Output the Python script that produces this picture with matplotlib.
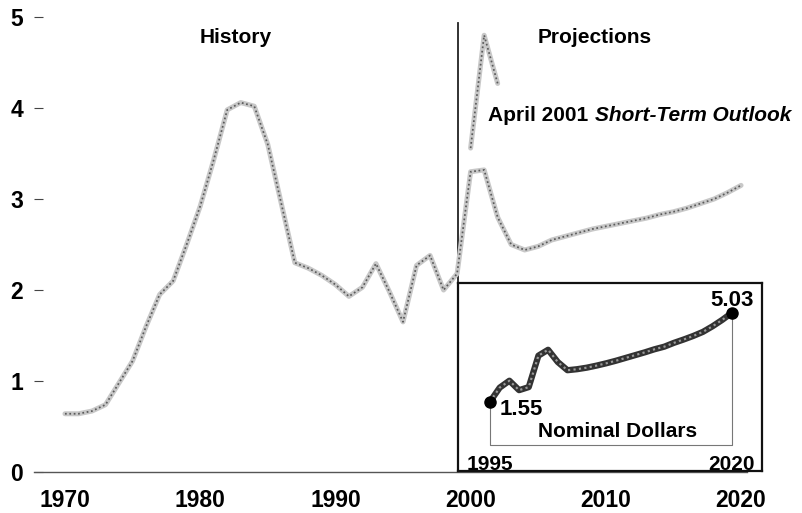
import matplotlib
matplotlib.use('Agg')
import matplotlib.pyplot as plt

plt.rcParams['font.family'] = ['Liberation Sans', 'DejaVu Sans']
plt.rcParams['font.weight'] = 'bold'

# history + reference projection (constant dollars)
years = list(range(1970, 2021))
price = [0.64, 0.64, 0.67, 0.74, 0.98, 1.22, 1.60, 1.95, 2.10, 2.50,
         2.92, 3.43, 3.98, 4.06, 4.02, 3.60, 2.95, 2.30, 2.24, 2.16,
         2.06, 1.93, 2.03, 2.29, 1.98, 1.65, 2.27, 2.38, 2.00, 2.18,
         3.30, 3.32, 2.80, 2.50, 2.44, 2.48, 2.55, 2.59, 2.63, 2.67,
         2.70, 2.73, 2.76, 2.79, 2.83, 2.86, 2.90, 2.95, 3.00, 3.07,
         3.15]

# April 2001 Short-Term Outlook
steo_years = [2000, 2001, 2002]
steo_price = [3.56, 4.80, 4.27]

# inset: nominal dollars
nom_years = list(range(1995, 2021))
nom_price = [1.55, 2.10, 2.37, 2.00, 2.12, 3.35, 3.58, 3.10, 2.78, 2.82,
             2.88, 2.96, 3.05, 3.15, 3.26, 3.37, 3.48, 3.60, 3.70, 3.85,
             3.98, 4.12, 4.28, 4.50, 4.75, 5.03]

divider_year = 1999.1

W, H = 802, 513
fig = plt.figure(figsize=(W / 100, H / 100), dpi=100)
ax = fig.add_axes([34 / W, (H - 472) / H, (747 - 34) / W, (472 - 12.5) / H])
ax.set_xlim(1967.71, 2020.44)
ax.set_ylim(0, 5.05)


def speckle(a, x, y, base, dots, lw):
    a.plot(x, y, color=base, lw=lw, solid_capstyle='round',
           solid_joinstyle='round', zorder=3)
    a.plot(x, y, color=dots, lw=lw * 0.35, ls=(0, (1, 1.5)), zorder=3)


speckle(ax, years, price, '#c8c8c8', '#5a5a5a', 3.6)
speckle(ax, steo_years, steo_price, '#c8c8c8', '#5a5a5a', 3.6)

ax.plot([divider_year, divider_year], [0, 4.93], color='#222222', lw=1.3, zorder=2)

for s in ['top', 'right', 'left']:
    ax.spines[s].set_visible(False)
ax.spines['bottom'].set_color('#555555')
ax.spines['bottom'].set_linewidth(1.0)

ax.set_xticks([1970, 1980, 1990, 2000, 2010, 2020])
ax.set_yticks([0, 1, 2, 3, 4, 5])
ax.tick_params(axis='x', length=0, pad=12, labelsize=16.5)
ax.tick_params(axis='y', direction='in', length=6.5, width=0.8, color='#444444',
               pad=8, labelsize=16.5)

ax.text(1982.6, 4.77, 'History', ha='center', va='center', fontsize=15, fontweight='bold')
ax.text(2009.2, 4.77, 'Projections', ha='center', va='center', fontsize=15, fontweight='bold')
t1 = ax.text(2001.3, 3.92, 'April 2001', ha='left', va='center', fontsize=15, fontweight='bold')
ax.annotate('Short-Term Outlook', xy=(1, 0), xycoords=t1, xytext=(4.5, 0),
            textcoords='offset points', ha='left', va='bottom', fontsize=15,
            fontweight='bold', fontstyle='italic')

# inset
ins = fig.add_axes([458 / W, (H - 471) / H, 304 / W, 188 / H])
ins.set_xlim(1991.69, 2023.10)
ins.set_ylim(-1.16, 6.19)
ins.set_xticks([])
ins.set_yticks([])
for s in ins.spines.values():
    s.set_linewidth(1.6)
    s.set_color('#111111')
    s.set_zorder(5)

speckle(ins, nom_years, nom_price, '#333333', '#9a9a9a', 4.5)
ins.plot([nom_years[0], nom_years[-1]], [nom_price[0], nom_price[-1]], 'o',
         color='black', ms=8, zorder=4)
base = -0.14
ins.plot([nom_years[0], nom_years[0], nom_years[-1], nom_years[-1]],
         [nom_price[0], base, base, nom_price[-1]], color='#777777', lw=0.8, zorder=2)

ins.text(nom_years[-1], 5.52, f'{nom_price[-1]:.2f}', ha='center', va='center',
         fontsize=16, fontweight='bold')
ins.text(1996.0, 1.245, f'{nom_price[0]:.2f}', ha='left', va='center',
         fontsize=16, fontweight='bold')
ins.text(2008.2, 0.37, 'Nominal Dollars', ha='center', va='center',
         fontsize=15, fontweight='bold')
ins.text(nom_years[0], -0.9, str(nom_years[0]), ha='center', va='center',
         fontsize=15, fontweight='bold', zorder=1)
ins.text(nom_years[-1], -0.9, str(nom_years[-1]), ha='center', va='center',
         fontsize=15, fontweight='bold', zorder=1)

fig.savefig('out.png', dpi=100)
